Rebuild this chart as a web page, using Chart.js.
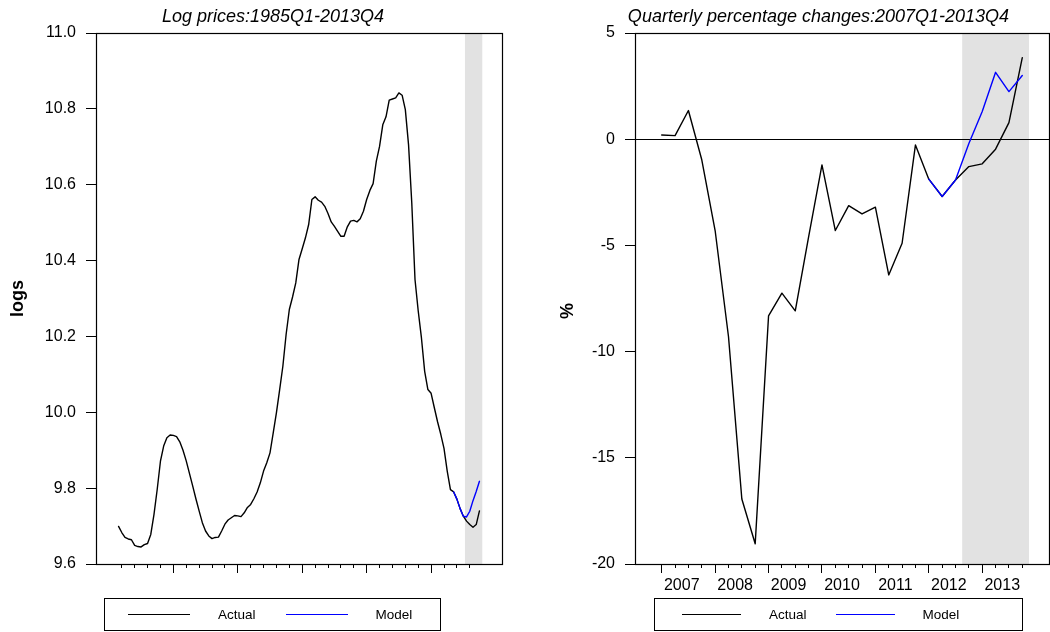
<!DOCTYPE html>
<html>
<head>
<meta charset="utf-8">
<script src="https://cdn.jsdelivr.net/npm/chart.js@4.4.1/dist/chart.umd.min.js"></script>
<style>
  html, body { margin: 0; padding: 0; background: #fff; }
  #wrap { position: relative; width: 1050px; height: 632px; overflow: hidden;
          font-family: "Liberation Sans", Arial, sans-serif; }
  canvas { position: absolute; top: 0; }
  .legend { position: absolute; top: 598px; height: 33px; box-sizing: border-box;
            border: 1px solid #000; display: flex; align-items: center;
            font-size: 13.5px; color: #000; }
  .legend .swatch { display: inline-block; height: 0; border-top: 1.4px solid #000; }
</style>
</head>
<body>
<div id="wrap">
  <canvas id="cLeft" width="525" height="632" style="left:0"></canvas>
  <canvas id="cRight" width="525" height="632" style="left:525px"></canvas>
  <div id="legLeft" class="legend" style="left:104px;width:337px"></div>
  <div id="legRight" class="legend" style="left:654px;width:369px"></div>
</div>
<script>
// ---- Log house prices (quarterly), 1985Q4 .. 2013Q4 ----
const logStart = '1985Q4';
const logActual = [
  9.699, 9.683, 9.670, 9.666, 9.664, 9.649, 9.646, 9.645, 9.651, 9.654,
  9.678, 9.731, 9.797, 9.871, 9.911, 9.933, 9.940, 9.939, 9.936, 9.922,
  9.900, 9.872, 9.839, 9.806, 9.772, 9.740, 9.709, 9.687, 9.674, 9.667,
  9.670, 9.671, 9.687, 9.705, 9.716, 9.722, 9.728, 9.727, 9.725, 9.735,
  9.749, 9.757, 9.772, 9.790, 9.814, 9.845, 9.867, 9.893, 9.946, 9.999,
  10.060, 10.122, 10.205, 10.271, 10.304, 10.341, 10.403, 10.431, 10.460, 10.495,
  10.561, 10.568, 10.559, 10.554, 10.543, 10.524, 10.502, 10.490, 10.477, 10.464,
  10.464, 10.489, 10.504, 10.506, 10.502, 10.510, 10.530, 10.561, 10.585, 10.603,
  10.662, 10.701, 10.758, 10.779, 10.823, 10.826, 10.829, 10.842, 10.836, 10.798,
  10.705, 10.552, 10.350, 10.267, 10.196, 10.108, 10.060, 10.050, 10.012, 9.975,
  9.942, 9.905, 9.845, 9.796, 9.790, 9.771, 9.746, 9.726, 9.713, 9.704,
  9.697, 9.704, 9.740
];
// Model path, 2011Q4 .. 2013Q4
const logModelStart = '2011Q4';
const logModel = [9.790, 9.771, 9.746, 9.726, 9.724, 9.739, 9.767, 9.791, 9.818];

// ---- Quarterly percentage changes, 2007Q1 .. 2013Q4 ----
const pctStart = '2007Q1';
const pctActual = [
  0.20, 0.17, 1.35, -0.97, -4.30, -9.29, -16.94, -19.05,
  -8.32, -7.25, -8.08, -4.60, -1.21, -4.30, -3.13, -3.52,
  -3.20, -6.39, -4.90, -0.27, -1.88, -2.70, -1.92, -1.29,
  -1.16, -0.47, 0.78, 3.84
];
const pctModelStart = '2012Q1';
const pctModel = [-1.88, -2.70, -1.92, -0.20, 1.30, 3.15, 2.24, 3.00];

// Axis ticks
const logYearTicks = [1986, 1987, 1988, 1989, 1990, 1991, 1992, 1993, 1994, 1995, 1996, 1997, 1998, 1999,
                      2000, 2001, 2002, 2003, 2004, 2005, 2006, 2007, 2008, 2009, 2010, 2011, 2012, 2013];
const logMajorTicks = [1990, 1995, 2000, 2005, 2010];
const pctYears = [2007, 2008, 2009, 2010, 2011, 2012, 2013];

// Shaded forecast window
const logBand = [2012.625, 2013.97];
const pctBand = [2012.625, 2013.875];

// quarter label helpers
function quarterToYear(q) {
  const [y, n] = q.split('Q').map(Number);
  return y + (n - 1) / 4;
}
function toPoints(startQ, values) {
  const t0 = quarterToYear(startQ);
  return values.map((v, i) => ({ x: t0 + i / 4, y: v }));
}
function quarterlyTicks(fromYear, toYearExcl) {
  const out = [];
  for (let y = fromYear; y < toYearExcl; y++) for (let k = 0; k < 4; k++) out.push(y + k / 4);
  return out;
}

const FONT = "'Liberation Sans', Arial, Helvetica, sans-serif";
Chart.defaults.font.family = FONT;
Chart.defaults.color = '#000';

// shaded window drawn underneath axes and lines
const bandPlugin = {
  id: 'band',
  beforeDraw(chart, args, opts) {
    const { ctx, chartArea: a, scales: { x } } = chart;
    const x0 = Math.max(x.getPixelForValue(opts.from), a.left);
    const x1 = Math.min(x.getPixelForValue(opts.to), a.right);
    ctx.save();
    ctx.fillStyle = '#e2e2e2';
    ctx.fillRect(x0, a.top, x1 - x0, a.bottom - a.top);
    ctx.restore();
  }
};
// box round the plotting region
const framePlugin = {
  id: 'frame',
  afterDraw(chart) {
    const { ctx, chartArea: a } = chart;
    ctx.save();
    ctx.strokeStyle = '#000';
    ctx.lineWidth = 1.2;
    ctx.strokeRect(Math.round(a.left) + 0.5, Math.round(a.top) + 0.5,
                   Math.round(a.right - a.left), Math.round(a.bottom - a.top));
    ctx.restore();
  }
};

const lineStyle = { pointRadius: 0, borderWidth: 1.4, tension: 0, fill: false,
                    borderJoinStyle: 'round', borderCapStyle: 'round' };

function tickAxis(min, max, ticks, len, weight, height) {
  return {
    type: 'linear', position: 'bottom', min, max, weight,
    afterBuildTicks: s => { s.ticks = ticks.map(v => ({ value: v })); },
    ticks: { display: false },
    grid: { drawOnChartArea: false, tickLength: len, color: '#000', tickColor: '#000', lineWidth: 1 },
    border: { display: true, color: '#000', width: 1 },
    afterFit: s => { s.height = height; }
  };
}

// ---------- left panel: log prices ----------
const leftChart = new Chart(document.getElementById('cLeft'), {
  type: 'line',
  data: {
    datasets: [
      { label: 'Actual', data: toPoints(logStart, logActual), borderColor: '#000000', order: 2, ...lineStyle },
      { label: 'Model', data: toPoints(logModelStart, logModel), borderColor: '#0000ff', order: 1, ...lineStyle }
    ]
  },
  options: {
    responsive: false, animation: false, events: [],
    layout: { padding: { left: 44, right: 23, top: 0, bottom: 0 } },
    plugins: {
      legend: { display: false }, tooltip: { enabled: false },
      title: { display: true, text: 'Log prices:1985Q1-2013Q4', color: '#000',
               font: { size: 18, style: 'italic', weight: 'normal', lineHeight: 1.2 },
               padding: { top: 6, bottom: 5.4 } },
      band: { from: logBand[0], to: logBand[1] }
    },
    scales: {
      x: tickAxis(1984, 2015.5, logYearTicks, 4, 0, 0),
      xMajor: tickAxis(1984, 2015.5, logMajorTicks, 9, 1, 68),
      y: {
        min: 9.6, max: 11.0,
        afterBuildTicks: s => { s.ticks = [9.6, 9.8, 10.0, 10.2, 10.4, 10.6, 10.8, 11.0].map(v => ({ value: v })); },
        ticks: { callback: v => v.toFixed(1), color: '#000', font: { size: 16 }, padding: 10 },
        grid: { drawOnChartArea: false, tickLength: 10, color: '#000', tickColor: '#000' },
        border: { color: '#000', width: 1 },
        title: { display: true, text: 'logs', color: '#000',
                 font: { size: 18, weight: 'bold', lineHeight: 1.2 }, padding: { top: -36.8, bottom: 0 } },
        afterFit: s => { s.width = 52; }
      }
    }
  },
  plugins: [bandPlugin, framePlugin]
});

// ---------- right panel: quarterly % changes ----------
const rightChart = new Chart(document.getElementById('cRight'), {
  type: 'line',
  data: {
    datasets: [
      { label: 'Actual', data: toPoints(pctStart, pctActual), borderColor: '#000000', order: 2, ...lineStyle },
      { label: 'Model', data: toPoints(pctModelStart, pctModel), borderColor: '#0000ff', order: 1, ...lineStyle }
    ]
  },
  options: {
    responsive: false, animation: false, events: [],
    layout: { padding: { left: 63, right: 1, top: 0, bottom: 0 } },
    plugins: {
      legend: { display: false }, tooltip: { enabled: false },
      title: { display: true, text: 'Quarterly percentage changes:2007Q1-2013Q4', color: '#000',
               font: { size: 18, style: 'italic', weight: 'normal', lineHeight: 1.2 },
               padding: { top: 6, bottom: 5.4 } },
      band: { from: pctBand[0], to: pctBand[1] }
    },
    scales: {
      x: tickAxis(2006.5, 2014.25, quarterlyTicks(2007, 2014), 4, 0, 0),
      xMajor: tickAxis(2006.5, 2014.25, pctYears, 9, 1, 0),
      xLabels: {
        type: 'linear', position: 'bottom', min: 2006.5, max: 2014.25, weight: 2,
        afterBuildTicks: s => { s.ticks = pctYears.map(v => ({ value: v + 0.375 })); },
        ticks: { callback: v => String(Math.floor(v)), color: '#000', font: { size: 16 },
                 padding: 12.4, autoSkip: false, maxRotation: 0 },
        grid: { display: false, drawTicks: false },
        border: { display: false },
        afterFit: s => { s.height = 68; }
      },
      y: {
        min: -20, max: 5,
        ticks: { stepSize: 5, color: '#000', font: { size: 16 }, padding: 10 },
        grid: {
          drawOnChartArea: true, tickLength: 10, tickColor: '#000', lineWidth: 1,
          color: c => (c.tick && c.tick.value === 0) ? '#000' : 'rgba(0,0,0,0)'
        },
        border: { color: '#000', width: 1 },
        // the unit sits a little below the axis midpoint
        title: { display: true, text: '%     ', color: '#000',
                 font: { size: 18, weight: 'bold', lineHeight: 1.2 }, padding: { top: -30.8, bottom: 0 } },
        afterFit: s => { s.width = 47; }
      }
    }
  },
  plugins: [bandPlugin, framePlugin]
});

// legend boxes built from each chart's datasets
function buildLegend(el, chart, lead, gaps) {
  el.style.paddingLeft = lead + 'px';
  chart.data.datasets.forEach((ds, i) => {
    const sw = document.createElement('span');
    sw.className = 'swatch';
    sw.style.width = gaps.swatch + 'px';
    sw.style.borderTopColor = ds.borderColor;
    sw.style.marginRight = gaps.afterSwatch + 'px';
    const tx = document.createElement('span');
    tx.textContent = ds.label;
    if (i < chart.data.datasets.length - 1) tx.style.marginRight = gaps.afterText + 'px';
    el.append(sw, tx);
  });
}
buildLegend(document.getElementById('legLeft'), leftChart, 23, { swatch: 62, afterSwatch: 28, afterText: 30 });
buildLegend(document.getElementById('legRight'), rightChart, 27, { swatch: 59, afterSwatch: 28, afterText: 29 });
</script>
</body>
</html>
